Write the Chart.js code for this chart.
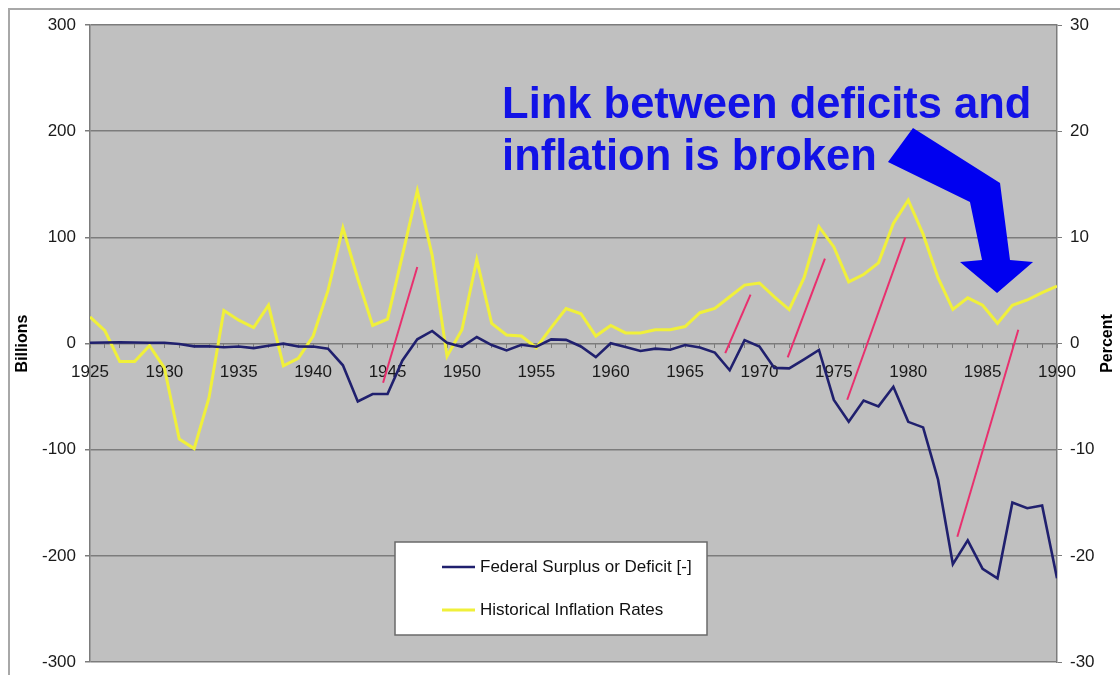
<!DOCTYPE html>
<html>
<head>
<meta charset="utf-8">
<title>Federal Surplus or Deficit and Inflation</title>
<script src="https://cdn.jsdelivr.net/npm/chart.js@4.4.0/dist/chart.umd.min.js"></script>
<style>
  body { margin: 0; background: #fff; }
</style>
</head>
<body>
<canvas id="chart" width="1120" height="675"></canvas>
<script>
// Years on the x axis
const years = [1925, 1926, 1927, 1928, 1929, 1930, 1931, 1932, 1933, 1934,
  1935, 1936, 1937, 1938, 1939, 1940, 1941, 1942, 1943, 1944,
  1945, 1946, 1947, 1948, 1949, 1950, 1951, 1952, 1953, 1954,
  1955, 1956, 1957, 1958, 1959, 1960, 1961, 1962, 1963, 1964,
  1965, 1966, 1967, 1968, 1969, 1970, 1971, 1972, 1973, 1974,
  1975, 1976, 1977, 1978, 1979, 1980, 1981, 1982, 1983, 1984,
  1985, 1986, 1987, 1988, 1989, 1990]
// Federal surplus or deficit [-], billions (left axis)
const deficit = [0.7, 0.9, 1.2, 0.9, 0.7, 0.7, -0.5, -2.7, -2.6, -3.6,
  -2.8, -4.3, -2.2, -0.1, -2.8, -2.9, -4.9, -20.5, -54.6, -47.6,
  -47.6, -15.9, 4.0, 11.8, 0.6, -3.1, 6.1, -1.5, -6.5, -1.2,
  -3.0, 3.9, 3.4, -2.8, -12.8, 0.3, -3.3, -7.1, -4.8, -5.9,
  -1.4, -3.7, -8.6, -25.2, 3.2, -2.8, -23.0, -23.4, -14.9, -6.1,
  -53.2, -73.7, -53.7, -59.2, -40.7, -73.8, -79.0, -128.0, -207.8, -185.4,
  -212.3, -221.2, -149.7, -155.2, -152.6, -221.0]
// Historical inflation rates, percent (right axis)
const inflation = [2.5, 1.2, -1.7, -1.7, -0.2, -2.3, -9.0, -9.9, -5.1, 3.1,
  2.2, 1.5, 3.6, -2.1, -1.4, 0.7, 5.0, 10.9, 6.1, 1.7,
  2.3, 8.3, 14.4, 8.3, -1.2, 1.3, 7.9, 1.9, 0.8, 0.7,
  -0.4, 1.5, 3.3, 2.8, 0.7, 1.7, 1.0, 1.0, 1.3, 1.3,
  1.6, 2.9, 3.3, 4.4, 5.5, 5.7, 4.4, 3.2, 6.2, 11.0,
  9.1, 5.8, 6.5, 7.6, 11.3, 13.5, 10.3, 6.2, 3.2, 4.3,
  3.6, 1.9, 3.6, 4.1, 4.8, 5.4]
// Red strokes drawn over the chart (year, billions)
const strokeStartYear = [1944.7, 1967.7, 1971.9, 1975.9, 1983.3]
const strokeStartValue = [-37, -9, -13, -53, -182]
const strokeEndYear = [1947.0, 1969.4, 1974.4, 1979.8, 1987.4]
const strokeEndValue = [72, 46, 80, 100, 13]
// Tick labels
const billionTicks = [-300, -200, -100, 0, 100, 200, 300]
const percentTicks = [-30, -20, -10, 0, 10, 20, 30]
const yearLabels = [1925, 1930, 1935, 1940, 1945, 1950, 1955, 1960, 1965, 1970, 1975, 1980, 1985, 1990]
// Callout text, anchored at (year, billions)
const calloutLines = ['Link between deficits and', 'inflation is broken']
const calloutYear = 1952.7
const calloutValues = [212.4, 163.4]
// Callout arrow outline (year, billions)
const arrowYears = [1980.32, 1986.17, 1986.84, 1988.39, 1985.97, 1983.48, 1984.96, 1984.15, 1978.64]
const arrowValues = [203.0, 151.2, 78.6, 76.8, 47.6, 76.8, 78.6, 133.3, 171.0]

const font = 'Arial, "Liberation Sans", sans-serif'
const gridColor = '#7c7c7c'

// Build the line datasets
let strokeSets = []
for (let i = 0; i < strokeStartYear.length; i++) {
  strokeSets.push({
    label: 'stroke' + i,
    data: [{x: strokeStartYear[i], y: strokeStartValue[i]}, {x: strokeEndYear[i], y: strokeEndValue[i]}],
    yAxisID: 'y',
    borderColor: '#e8306e',
    borderWidth: 2,
    pointRadius: 0
  })
}

const backdrop = {  // white page, outer frame and grey plot area
  id: 'backdrop',
  beforeDraw(chart) {
    const ctx = chart.ctx
    const a = chart.chartArea
    ctx.save()
    ctx.fillStyle = '#fff'
    ctx.fillRect(0, 0, chart.width, chart.height)
    ctx.strokeStyle = '#a8a8a8'
    ctx.lineWidth = 2
    ctx.strokeRect(9, 9, chart.width + 20, chart.height + 20)
    ctx.fillStyle = '#c0c0c0'
    ctx.fillRect(a.left, a.top, a.right - a.left, a.bottom - a.top)
    ctx.restore()
  }
}

const extras = {  // axis titles, legend box, callout text and arrow
  id: 'extras',
  afterDraw(chart) {
    const ctx = chart.ctx
    const sx = chart.scales.x
    const sy = chart.scales.y
    const mid = (chart.chartArea.top + chart.chartArea.bottom) / 2
    ctx.save()
    // axis titles, both read bottom to top
    ctx.fillStyle = '#000'
    ctx.font = 'bold 16px ' + font
    ctx.textAlign = 'center'
    ctx.textBaseline = 'middle'
    ctx.translate(23, mid)
    ctx.rotate(-Math.PI / 2)
    ctx.fillText('Billions', 0, 0)
    ctx.rotate(Math.PI / 2)
    ctx.translate(1108 - 23, 0)
    ctx.rotate(-Math.PI / 2)
    ctx.fillText('Percent', 0, 0)
    ctx.restore()

    // legend box
    ctx.save()
    ctx.fillStyle = '#fff'
    ctx.fillRect(395, 542, 312, 93)
    ctx.strokeStyle = '#6a6a6a'
    ctx.lineWidth = 1.5
    ctx.strokeRect(395, 542, 312, 93)
    ctx.font = '17px ' + font
    ctx.textBaseline = 'middle'
    ctx.textAlign = 'left'
    const rows = [567, 610]
    for (let i = 0; i < 2; i++) {
      const ds = chart.data.datasets[i]
      ctx.strokeStyle = ds.borderColor
      ctx.lineWidth = ds.borderWidth
      ctx.beginPath()
      ctx.moveTo(442, rows[i])
      ctx.lineTo(475, rows[i])
      ctx.stroke()
      ctx.fillStyle = '#111'
      ctx.fillText(ds.label, 480, rows[i])
    }
    ctx.restore()

    // callout arrow
    ctx.save()
    ctx.fillStyle = '#0000f0'
    ctx.beginPath()
    arrowYears.forEach((yr, i) => {
      const px = sx.getPixelForValue(yr)
      const py = sy.getPixelForValue(arrowValues[i])
      if (i == 0) ctx.moveTo(px, py)
      else ctx.lineTo(px, py)
    })
    ctx.closePath()
    ctx.fill()
    // callout text
    ctx.fillStyle = '#1212e6'
    ctx.font = 'bold 43.5px ' + font
    ctx.textAlign = 'left'
    ctx.textBaseline = 'alphabetic'
    calloutLines.forEach((line, i) => {
      ctx.fillText(line, sx.getPixelForValue(calloutYear), sy.getPixelForValue(calloutValues[i]))
    })
    ctx.restore()
  }
}

// Fixed axis width, no extra room for the end labels
function fixWidth(width) {
  return (scale) => {
    scale.width = width
    scale.paddingTop = 0
    scale.paddingBottom = 0
  }
}

const config = {
  type: 'line',
  data: {
    datasets: [{
      label: 'Federal Surplus or Deficit [-]',
      data: years.map((yr, i) => ({x: yr, y: deficit[i]})),
      yAxisID: 'y',
      borderColor: '#20206e',
      borderWidth: 2.6,
      pointRadius: 0
    },
    {
      label: 'Historical Inflation Rates',
      data: years.map((yr, i) => ({x: yr, y: inflation[i]})),
      yAxisID: 'y1',
      borderColor: '#f0f03a',
      borderWidth: 3,
      pointRadius: 0
    }].concat(strokeSets)
  },
  options: {
    responsive: false,
    animation: false,
    layout: { padding: { top: 25, bottom: 13, left: 0, right: 0 } },
    plugins: {
      legend: { display: false },
      tooltip: { enabled: false }
    },
    scales: {
      x: {
        type: 'linear',
        position: { y: 0 },
        min: 1925,
        max: 1990,
        afterFit: (scale) => { scale.height = 0 },
        afterBuildTicks: (scale) => {
          scale.ticks = years.map(yr => ({value: yr}))
        },
        ticks: {
          autoSkip: false,
          maxRotation: 0,
          padding: 15,
          color: '#1a1a1a',
          font: { family: font, size: 17 },
          callback: (v) => yearLabels.includes(v) ? String(v) : ''
        },
        grid: { drawOnChartArea: false, drawTicks: true, tickLength: 4, color: gridColor },
        border: { display: false }
      },
      y: {
        position: 'left',
        min: -300,
        max: 300,
        afterFit: fixWidth(90),
        afterBuildTicks: (scale) => {
          scale.ticks = billionTicks.map(v => ({value: v}))
        },
        ticks: { padding: 9, color: '#1a1a1a', font: { family: font, size: 17 } },
        grid: { color: gridColor, lineWidth: 1.5, tickLength: 5 },
        border: { color: gridColor, width: 1.5 }
      },
      y1: {
        position: 'right',
        min: -30,
        max: 30,
        afterFit: fixWidth(63),
        afterBuildTicks: (scale) => {
          scale.ticks = percentTicks.map(v => ({value: v}))
        },
        ticks: { padding: 8, color: '#1a1a1a', font: { family: font, size: 17 } },
        grid: { drawOnChartArea: false, color: gridColor, tickLength: 5 },
        border: { color: gridColor, width: 1.5 }
      }
    }
  },
  plugins: [backdrop, extras]
}

let context = document.getElementById('chart').getContext('2d')
let MyChart = new Chart(context, config)
</script>
</body>
</html>
